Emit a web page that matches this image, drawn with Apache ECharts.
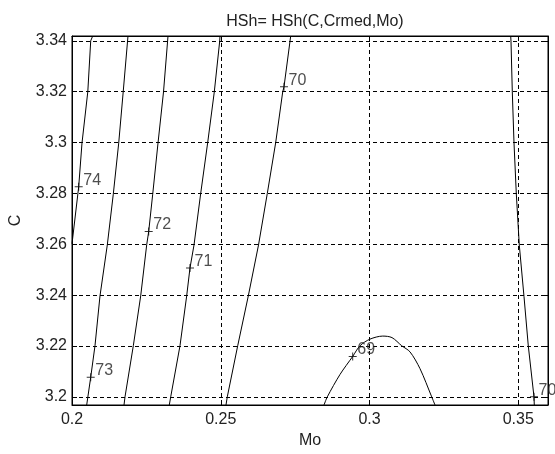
<!DOCTYPE html>
<html><head><meta charset="utf-8">
<script src="https://cdn.jsdelivr.net/npm/echarts@6/dist/echarts.min.js"></script>
<style>html,body{margin:0;padding:0;background:#fff}#c{width:555px;height:454px}</style>
</head><body><div id="c"></div>
<script>
// axis ranges and ticks
const xRange = [0.2, 0.36];
const yRange = [3.1968, 3.3419];
const xTickStep = 0.05;
const yTickStep = 0.02;

// contour lines [Mo, C]
const c74 = [[0.2,3.2602],[0.20225,3.2826],[0.20336,3.2998],[0.20531,3.32],[0.20629,3.34],[0.20696,3.3419]];
const c73 = [[0.20494,3.1968],[0.20629,3.2077],[0.20773,3.2201],[0.20941,3.2397],[0.21187,3.2598],[0.21388,3.2797],[0.2157,3.2998],[0.21721,3.3199],[0.21882,3.3419]];
const c72 = [[0.21748,3.1968],[0.21782,3.2],[0.22061,3.2201],[0.22309,3.2397],[0.22511,3.2598],[0.22578,3.265],[0.22713,3.2797],[0.22891,3.2998],[0.23076,3.3199],[0.23227,3.3419]];
const c71 = [[0.23271,3.1968],[0.23318,3.2],[0.2363,3.2201],[0.23855,3.2397],[0.23966,3.2507],[0.24101,3.2597],[0.24326,3.28],[0.24561,3.3],[0.24783,3.3199],[0.24965,3.3399],[0.24975,3.3419]];
const c70a = [[0.25176,3.1968],[0.2522,3.2],[0.2557,3.2201],[0.25926,3.2397],[0.26269,3.2597],[0.26565,3.28],[0.26847,3.3],[0.27082,3.3199],[0.27126,3.3219],[0.27351,3.3419]];
const c69 = [[0.28471,3.1968],[0.28582,3.2],[0.29008,3.2088],[0.29435,3.2159],[0.29681,3.2201],[0.30017,3.2227],[0.30444,3.2239],[0.30756,3.2233],[0.31082,3.2201],[0.31361,3.2177],[0.31697,3.2111],[0.32091,3.2],[0.32202,3.1968]];
const c70b = [[0.34746,3.3419],[0.34756,3.3399],[0.348,3.3199],[0.34857,3.3],[0.34934,3.28],[0.35035,3.2597],[0.35193,3.2395],[0.35338,3.22],[0.35529,3.2],[0.35539,3.1968]];

// contour labels [Mo, C, text]
const labelPts = [
  [0.20225,3.2826,'74'],
  [0.20629,3.2077,'73'],
  [0.22578,3.265,'72'],
  [0.23966,3.2507,'71'],
  [0.27126,3.3219,'70'],
  [0.29435,3.2159,'69'],
  [0.35529,3.2,'70']
];

const titleText = 'HSh= HSh(C,Crmed,Mo)';
const xName = 'Mo';
const yName = 'C';

const FONT = 'Liberation Sans, Arial, sans-serif';
const isMult = (v, s) => Math.abs(v / s - Math.round(v / s)) < 1e-6;
const fmt = s => v => isMult(v, s) ? String(+v.toFixed(4)) : '';

const lineSets = [c74, c73, c72, c71, c70a, c69, c70b];
const series = lineSets.map((d, i) => ({
  type: 'line', data: d, showSymbol: false, silent: true,
  smooth: d === c69 ? 0.3 : false,
  lineStyle: {color: '#000', width: 1}, clip: true, z: 3
}));
series.push({
  type: 'scatter', data: labelPts, silent: true, z: 5,
  symbol: 'path://M0,3.5L8,3.5L8,4.5L0,4.5Z M3.5,0L4.5,0L4.5,8L3.5,8Z',
  symbolSize: 8, itemStyle: {color: '#000'},
  label: {show: true, formatter: p => p.data[2], position: [8.6, -2.6],
    align: 'left', verticalAlign: 'middle', fontFamily: FONT, fontSize: 16, color: '#222'},
  clip: false
});

const gridLine = {show: true, lineStyle: {color: '#000', type: [4, 3], width: 1}, showMinLine: false, showMaxLine: false};
const baseX = {
  type: 'value', min: xRange[0], max: xRange[1], splitNumber: 3,
  minInterval: xTickStep, maxInterval: xTickStep
};
const baseY = {
  type: 'value', min: yRange[0], max: yRange[1], splitNumber: 7,
  minInterval: yTickStep, maxInterval: yTickStep
};

const chart = echarts.init(document.getElementById('c'), null, {renderer: 'canvas'});
chart.setOption({
  animation: false,
  backgroundColor: '#fff',
  title: {text: titleText, left: 310, top: 9, textAlign: 'center',
    textStyle: {fontFamily: FONT, fontSize: 16, fontWeight: 'normal', color: '#222'}},
  grid: {left: 72, right: 7, top: 36, bottom: 43, show: true, borderColor: '#000', borderWidth: 1, backgroundColor: '#fff'},
  xAxis: [
    Object.assign({}, baseX, {
      position: 'bottom', name: xName, nameLocation: 'middle', nameGap: 28,
      nameTextStyle: {fontFamily: FONT, fontSize: 16, color: '#222'},
      axisLine: {show: true, lineStyle: {color: '#000'}},
      axisTick: {show: true, inside: true, length: 5, lineStyle: {color: '#000'}},
      axisLabel: {fontFamily: FONT, fontSize: 16, color: '#222', margin: 7, formatter: fmt(xTickStep), showMaxLabel: false},
      splitLine: gridLine
    }),
    Object.assign({}, baseX, {
      position: 'top',
      axisLine: {show: true, lineStyle: {color: '#000'}},
      axisTick: {show: true, inside: true, length: 5, lineStyle: {color: '#000'}},
      axisLabel: {show: false}, splitLine: {show: false}
    })
  ],
  yAxis: [
    Object.assign({}, baseY, {
      position: 'left', name: yName, nameLocation: 'middle', nameGap: 48, nameRotate: 90,
      nameTextStyle: {fontFamily: FONT, fontSize: 16, color: '#222'},
      axisLine: {show: true, lineStyle: {color: '#000'}},
      axisTick: {show: true, inside: true, length: 5, lineStyle: {color: '#000'}},
      axisLabel: {fontFamily: FONT, fontSize: 16, color: '#222', margin: 5, formatter: fmt(yTickStep), showMinLabel: false, showMaxLabel: false},
      splitLine: gridLine
    }),
    Object.assign({}, baseY, {
      position: 'right',
      axisLine: {show: true, lineStyle: {color: '#000'}},
      axisTick: {show: true, inside: true, length: 5, lineStyle: {color: '#000'}},
      axisLabel: {show: false}, splitLine: {show: false}
    })
  ],
  series: series
});
</script>
</body></html>
